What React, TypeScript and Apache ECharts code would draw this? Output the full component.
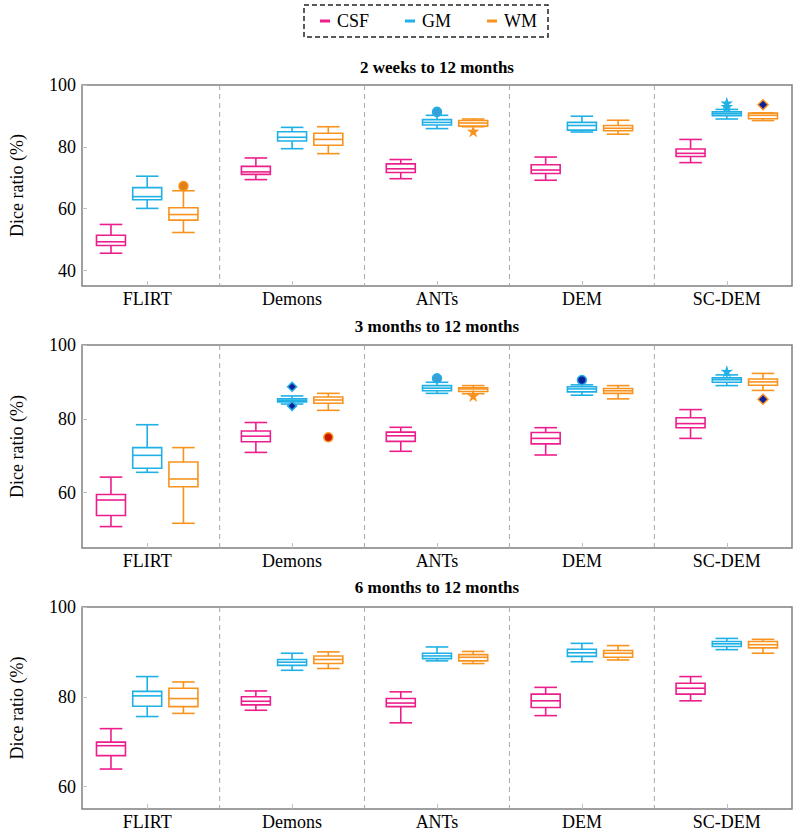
import React, { useEffect, useRef } from "react";
import * as echarts from "echarts";

// ---------- data ----------
const METHODS = ["FLIRT", "Demons", "ANTs", "DEM", "SC-DEM"];
const TISSUES = ["CSF", "GM", "WM"];
const PANEL_TITLES = ["2 weeks to 12 months", "3 months to 12 months", "6 months to 12 months"];
const Y_MINS = [35, 45, 55];
const Y_TICKS_P1 = [40, 60, 80, 100];
const Y_TICKS_P2 = [60, 80, 100];
const Y_TICKS_P3 = [60, 80, 100];

// [lower whisker, Q1, median, Q3, upper whisker] per method
const P1_CSF = [[45.6, 48.1, 49.3, 51.4, 54.9], [69.4, 71.1, 71.9, 73.7, 76.4], [69.7, 71.7, 72.9, 74.5, 75.9], [69.2, 71.4, 72.5, 74.2, 76.7], [74.9, 76.9, 77.9, 79.3, 82.4]];
const P1_GM = [[60.1, 62.9, 63.9, 66.8, 70.5], [79.4, 81.9, 83.1, 84.9, 86.3], [85.9, 87.05, 87.9, 88.8, 90.2], [84.8, 85.4, 86.9, 87.9, 89.9], [89.0, 90.1, 90.7, 91.3, 92.1]];
const P1_WM = [[52.3, 56.3, 58.1, 60.3, 65.8], [77.8, 80.5, 82.4, 84.4, 86.5], [86.5, 86.7, 87.7, 88.5, 89.0], [84.1, 85.2, 86.0, 86.9, 88.6], [88.5, 89.1, 90.2, 90.9, 91.0]];

const P2_CSF = [[50.8, 53.8, 58.0, 59.5, 64.2], [70.9, 73.8, 75.3, 76.7, 79.0], [71.2, 73.9, 75.4, 76.4, 77.7], [70.2, 73.2, 74.7, 76.3, 77.6], [74.7, 77.6, 78.7, 80.3, 82.5]];
const P2_GM = [[65.5, 66.6, 70.1, 72.2, 78.4], [84.0, 84.6, 85.0, 85.4, 86.2], [86.9, 87.6, 88.3, 89.0, 89.9], [86.4, 87.3, 88.1, 88.7, 89.2], [89.0, 89.9, 90.6, 91.1, 91.9]];
const P2_WM = [[51.7, 61.6, 63.7, 68.3, 72.2], [82.3, 84.2, 85.1, 85.9, 86.9], [86.8, 87.4, 88.1, 88.4, 89.0], [85.4, 86.9, 87.6, 88.2, 89.0], [87.7, 89.1, 90.0, 90.8, 92.3]];

const P3_CSF = [[63.9, 66.9, 69.1, 69.9, 72.9], [77.0, 78.2, 79.0, 80.0, 81.3], [74.2, 77.8, 78.6, 79.6, 81.1], [75.8, 77.6, 79.1, 80.6, 82.1], [79.1, 80.6, 81.9, 83.0, 84.5]];
const P3_GM = [[75.6, 77.9, 80.2, 81.2, 84.5], [85.9, 87.0, 87.7, 88.3, 89.7], [88.0, 88.5, 89.1, 89.7, 91.1], [87.8, 89.0, 89.8, 90.6, 91.9], [90.5, 91.2, 91.8, 92.3, 93.0]];
const P3_WM = [[76.3, 77.8, 79.6, 81.9, 83.3], [86.3, 87.4, 88.3, 89.1, 90.0], [87.4, 88.0, 88.8, 89.4, 90.1], [88.2, 88.8, 89.7, 90.3, 91.4], [89.7, 90.9, 91.6, 92.3, 92.8]];

// outliers: [method index, value]
const P1_GM_OUT = [[2, 91.3], [4, 94.1], [4, 93.0]];
const P1_WM_OUT = [[0, 67.3], [2, 85.0], [4, 93.6]];
const P2_GM_OUT = [[1, 88.7], [1, 83.5], [2, 91.0], [3, 90.5], [4, 92.8]];
const P2_WM_OUT = [[1, 75.0], [2, 86.2], [4, 85.3]];

// ---------- styles ----------
const COLORS = { CSF: "#ec1e8c", GM: "#1fb0e6", WM: "#f7931e" };
const NAVY = "#10209a";
const STAR = "path://M0,-10 L2.2,-3 L9.5,-3.1 L3.6,1.2 L5.9,8.1 L0,3.8 L-5.9,8.1 L-3.6,1.2 L-9.5,-3.1 L-2.2,-3 Z";
const OFFSETS = [-0.25, 0, 0.25];
const FONT = "Liberation Serif";

type MarkStyle = { symbol: string; size: number; fill: string; border: string };
const P1_GM_OUT_STYLE: MarkStyle[] = [
  { symbol: "circle", size: 9, fill: "#3a9fd8", border: COLORS.GM },
  { symbol: STAR, size: 8, fill: COLORS.GM, border: COLORS.GM },
  { symbol: STAR, size: 8, fill: COLORS.GM, border: COLORS.GM },
];
const P1_WM_OUT_STYLE: MarkStyle[] = [
  { symbol: "circle", size: 9, fill: "#e27f14", border: COLORS.WM },
  { symbol: STAR, size: 8, fill: COLORS.WM, border: COLORS.WM },
  { symbol: "diamond", size: 10, fill: NAVY, border: COLORS.WM },
];
const P2_GM_OUT_STYLE: MarkStyle[] = [
  { symbol: "diamond", size: 9, fill: NAVY, border: COLORS.GM },
  { symbol: "diamond", size: 9, fill: NAVY, border: COLORS.GM },
  { symbol: "circle", size: 9, fill: "#3a9fd8", border: COLORS.GM },
  { symbol: "circle", size: 9, fill: NAVY, border: COLORS.GM },
  { symbol: STAR, size: 8, fill: COLORS.GM, border: COLORS.GM },
];
const P2_WM_OUT_STYLE: MarkStyle[] = [
  { symbol: "circle", size: 9, fill: "#cc1800", border: COLORS.WM },
  { symbol: STAR, size: 8, fill: COLORS.WM, border: COLORS.WM },
  { symbol: "diamond", size: 10, fill: NAVY, border: COLORS.WM },
];

const GRIDS = [
  { left: 82, width: 710, top: 85, height: 201 },
  { left: 82, width: 710, top: 345, height: 203 },
  { left: 82, width: 710, top: 607, height: 202 },
];
const TITLE_TOPS = [59, 318, 579];

function boxRender(color: string) {
  return (params: any, api: any) => {
    const x = api.value(0);
    const pLo = api.coord([x, api.value(1)]);
    const yQ1 = api.coord([x, api.value(2)])[1];
    const yMed = api.coord([x, api.value(3)])[1];
    const yQ3 = api.coord([x, api.value(4)])[1];
    const yHi = api.coord([x, api.value(5)])[1];
    const cx = pLo[0];
    const yLo = pLo[1];
    const hb = api.size([0.2, 0])[0] / 2;
    const hc = api.size([0.156, 0])[0] / 2;
    const style = { stroke: color, lineWidth: 1.6, fill: "none" };
    return {
      type: "group",
      children: [
        { type: "line", shape: { x1: cx, y1: yQ3, x2: cx, y2: yHi }, style },
        { type: "line", shape: { x1: cx, y1: yQ1, x2: cx, y2: yLo }, style },
        { type: "line", shape: { x1: cx - hc, y1: yHi, x2: cx + hc, y2: yHi }, style },
        { type: "line", shape: { x1: cx - hc, y1: yLo, x2: cx + hc, y2: yLo }, style },
        { type: "rect", shape: { x: cx - hb, y: yQ3, width: 2 * hb, height: yQ1 - yQ3 }, style: { ...style, fill: "#fff" } },
        { type: "line", shape: { x1: cx - hb, y1: yMed, x2: cx + hb, y2: yMed }, style },
      ],
    };
  };
}

function dividerRender(params: any, api: any) {
  const cs = params.coordSys;
  const px = api.coord([api.value(0), api.value(1)])[0];
  return {
    type: "line",
    shape: { x1: px, y1: cs.y, x2: px, y2: cs.y + cs.height },
    style: { stroke: "#a8a8a8", lineWidth: 1, lineDash: [5, 4] },
  };
}

export default function App() {
  const ref = useRef<HTMLDivElement>(null);
  useEffect(() => {
    document.body.style.margin = "0";
    const chart = echarts.init(ref.current!, null, { renderer: "svg" });

    const panels = [
      { boxes: [P1_CSF, P1_GM, P1_WM], outs: [null, P1_GM_OUT, P1_WM_OUT], outStyles: [null, P1_GM_OUT_STYLE, P1_WM_OUT_STYLE], ticks: Y_TICKS_P1 },
      { boxes: [P2_CSF, P2_GM, P2_WM], outs: [null, P2_GM_OUT, P2_WM_OUT], outStyles: [null, P2_GM_OUT_STYLE, P2_WM_OUT_STYLE], ticks: Y_TICKS_P2 },
      { boxes: [P3_CSF, P3_GM, P3_WM], outs: [null, null, null], outStyles: [null, null, null], ticks: Y_TICKS_P3 },
    ];

    const series: any[] = [];
    const xAxes: any[] = [];
    const yAxes: any[] = [];

    panels.forEach((p, pi) => {
      xAxes.push({
        type: "value",
        gridIndex: pi,
        min: 0.55,
        max: 5.45,
        axisLine: { show: false },
        splitLine: { show: false },
        axisTick: { show: true, inside: true, length: 5, customValues: [1, 2, 3, 4, 5], lineStyle: { color: "#c0c0c0" } },
        axisLabel: {
          customValues: [1, 2, 3, 4, 5],
          formatter: (v: number) => METHODS[Math.round(v) - 1],
          color: "#000",
          fontSize: 18,
          fontFamily: FONT,
          margin: 4,
        },
      });
      yAxes.push({
        type: "value",
        gridIndex: pi,
        min: Y_MINS[pi],
        max: 100,
        name: "Dice ratio (%)",
        nameLocation: "middle",
        nameRotate: 90,
        nameGap: 56,
        nameTextStyle: { color: "#000", fontSize: 18, fontFamily: FONT },
        axisLine: { show: false },
        splitLine: { show: false },
        axisTick: { show: true, inside: true, length: 5, customValues: p.ticks, lineStyle: { color: "#c0c0c0" } },
        axisLabel: { customValues: p.ticks, color: "#000", fontSize: 18, fontFamily: FONT, margin: 6 },
      });

      series.push({
        type: "custom",
        name: "dividers",
        xAxisIndex: pi,
        yAxisIndex: pi,
        silent: true,
        z: 1,
        renderItem: dividerRender,
        encode: { x: 0, y: 1 },
        data: [1.5, 2.5, 3.5, 4.5].map((v) => [v, Y_MINS[pi]]),
      });

      TISSUES.forEach((t, ti) => {
        const color = (COLORS as any)[t];
        const data = p.boxes[ti].map((b, mi) => [mi + 1 + OFFSETS[ti], ...b]);
        series.push({
          type: "custom",
          name: t,
          xAxisIndex: pi,
          yAxisIndex: pi,
          z: 3,
          itemStyle: { color },
          renderItem: boxRender(color),
          dimensions: ["x", "lo", "q1", "med", "q3", "hi"],
          encode: { x: 0, y: [1, 2, 3, 4, 5] },
          data,
        });
        const outs = p.outs[ti];
        const st = p.outStyles[ti];
        if (outs && st) {
          series.push({
            type: "scatter",
            name: t + " outliers",
            xAxisIndex: pi,
            yAxisIndex: pi,
            z: 4,
            data: outs.map((o, oi) => ({
              value: [o[0] + 1 + OFFSETS[ti], o[1]],
              symbol: st[oi].symbol,
              symbolSize: st[oi].size,
              itemStyle: { color: st[oi].fill, borderColor: st[oi].border, borderWidth: 1.5, opacity: 1 },
            })),
          });
        }
      });
    });

    chart.setOption({
      animation: false,
      textStyle: { fontFamily: FONT },
      color: [COLORS.CSF, COLORS.GM, COLORS.WM],
      title: PANEL_TITLES.map((txt, i) => ({
        text: txt,
        left: 437,
        top: TITLE_TOPS[i],
        textAlign: "center",
        padding: 0,
        textStyle: { fontSize: 17, fontWeight: "bold", color: "#000", fontFamily: FONT },
      })),
      legend: {
        data: TISSUES,
        left: 320,
        top: 12,
        padding: 0,
        icon: "rect",
        itemWidth: 10,
        itemHeight: 3,
        itemGap: 36,
        textStyle: { fontSize: 18, color: "#000", fontFamily: FONT, padding: [0, 0, 0, 2] },
      },
      graphic: [
        {
          type: "rect",
          shape: { x: 304, y: 5, width: 244, height: 32 },
          style: { fill: "none", stroke: "#222", lineWidth: 1.5, lineDash: [5, 3] },
          silent: true,
        },
      ],
      grid: GRIDS.map((g) => ({ ...g, show: true, borderColor: "#808080", borderWidth: 1.5, backgroundColor: "transparent" })),
      xAxis: xAxes,
      yAxis: yAxes,
      series,
    });
    return () => chart.dispose();
  }, []);
  return <div ref={ref} style={{ width: 800, height: 837 }} />;
}
